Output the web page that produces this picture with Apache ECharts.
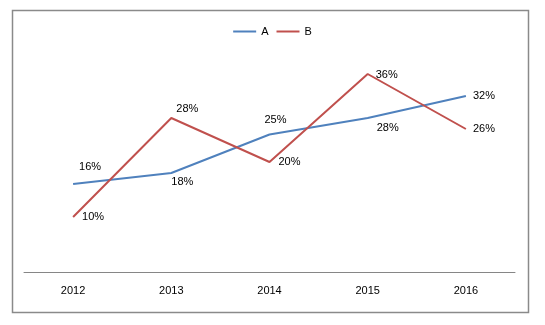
<!DOCTYPE html>
<html>
<head>
<meta charset="utf-8">
<script src="https://cdn.jsdelivr.net/npm/echarts@6/dist/echarts.min.js"></script>
<style>
  html, body { margin: 0; padding: 0; background: #fff; }
  #chart { width: 545px; height: 325px; }
</style>
</head>
<body>
<div id="chart"></div>
<script>
// Years on the category axis
const years = ['2012', '2013', '2014', '2015', '2016'];
// Series values, in percent
const seriesA = [16, 18, 25, 28, 32];
const seriesB = [10, 28, 20, 36, 26];
// Where each value label sits relative to its point
const offsetsA = [[17, -17], [11, 9], [6, -15], [20, 10], [18, 0]];
const offsetsB = [[20, 0], [16, -9], [20, 0], [19, 1], [18, 0]];

const FONT = '"Liberation Sans", Arial, sans-serif';

function withLabels(values, offsets) {
  return values.map((v, i) => ({
    value: v,
    label: { offset: offsets[i] }
  }));
}

function lineSeries(name, color, values, offsets) {
  return {
    name: name,
    type: 'line',
    data: withLabels(values, offsets),
    showSymbol: true,
    symbol: 'circle',
    symbolSize: 2,
    color: color,
    itemStyle: { color: 'rgba(0,0,0,0)', borderWidth: 0 },
    lineStyle: { width: 2, color: color },
    label: {
      show: true,
      position: 'inside',
      formatter: '{c}%',
      color: '#000',
      fontFamily: FONT,
      fontSize: 11
    }
  };
}

const chart = echarts.init(document.getElementById('chart'), null, { renderer: 'canvas' });
chart.setOption({
  animation: false,
  backgroundColor: '#ffffff',
  textStyle: { fontFamily: FONT },
  graphic: [{
    type: 'rect',
    shape: { x: 12.5, y: 10.5, width: 516, height: 302 },
    style: { fill: 'none', stroke: '#8a8a8a', lineWidth: 1.5 },
    silent: true
  }],
  legend: {
    top: 21,
    left: 'center',
    icon: 'rect',
    itemWidth: 23,
    itemHeight: 2,
    itemGap: 8,
    textStyle: { fontFamily: FONT, fontSize: 11, color: '#000' },
    data: [
      { name: 'A', itemStyle: { color: '#4F81BD', opacity: 1 } },
      { name: 'B', itemStyle: { color: '#C0504D', opacity: 1 } }
    ]
  },
  grid: { left: 24, right: 30, top: 52, bottom: 53, containLabel: false },
  xAxis: {
    type: 'category',
    data: years,
    boundaryGap: true,
    axisLine: { lineStyle: { color: '#868686', width: 1 } },
    axisTick: { show: false },
    axisLabel: { color: '#000', fontFamily: FONT, fontSize: 11, margin: 13 }
  },
  yAxis: {
    type: 'value',
    min: 0,
    max: 40,
    interval: 10,
    show: false,
    splitLine: { show: false }
  },
  series: [
    lineSeries('A', '#4F81BD', seriesA, offsetsA),
    lineSeries('B', '#C0504D', seriesB, offsetsB)
  ]
});
</script>
</body>
</html>
